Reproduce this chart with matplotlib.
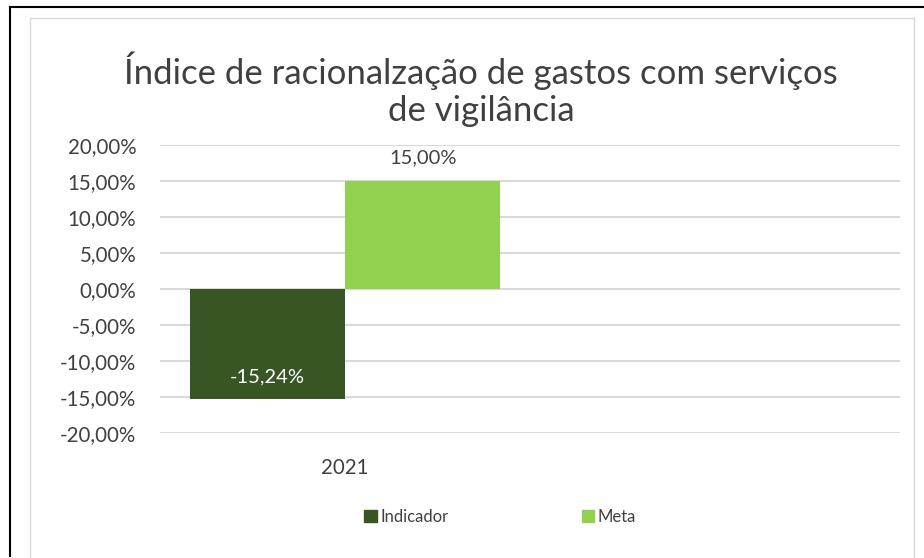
import matplotlib
matplotlib.use("Agg")
import matplotlib.pyplot as plt
import numpy as np
from matplotlib.patches import Rectangle
from matplotlib.lines import Line2D

categories = ["2021", ""]
indicador = [-15.24, np.nan]
meta = [15.00, np.nan]
yticks = [20, 15, 10, 5, 0, -5, -10, -15, -20]

plt.rcParams['font.family'] = ['Lato', 'DejaVu Sans']

fig = plt.figure(figsize=(9.24, 5.58), dpi=100)
W, H = 924, 558

def fx(px):
    return px / W

def fy(py):
    return 1 - py / H

# outer black frame
fig.add_artist(Line2D([fx(10), fx(10)], [fy(7), fy(556)], color='black', lw=1.5, transform=fig.transFigure))
fig.add_artist(Line2D([fx(10), 1.0], [fy(7), fy(7)], color='black', lw=1.5, transform=fig.transFigure))
# inner light frame
fig.add_artist(Rectangle((fx(30), fy(575)), fx(914) - fx(30), fy(18) - fy(575), fill=False,
                         edgecolor='#D9D9D9', lw=1.0, transform=fig.transFigure))

ax = fig.add_axes([fx(160), fy(433), fx(900) - fx(160), fy(145) - fy(433)])
ax.set_ylim(-20, 20)
ax.set_xlim(-0.5, 1.5)
x = np.arange(len(categories))
w = 0.42
ax.bar(x - w / 2, indicador, width=w, color='#375623', zorder=3, label='Indicador')
ax.bar(x + w / 2, meta, width=w, color='#92D050', zorder=3, label='Meta')

def fmt(v):
    return f"{v:.2f}%".replace('.', ',')

for xi, v in zip(x, indicador):
    if not np.isnan(v):
        ax.text(xi - w / 2, v + 3.0, fmt(v),
                ha='center', va='center', color='white', fontsize=14.5, zorder=4)
for xi, v in zip(x, meta):
    if not np.isnan(v):
        ax.text(xi + w / 2, v + 2.0, fmt(v),
                ha='center', va='bottom', color='#404040', fontsize=14.5, zorder=4)

ax.set_yticks(yticks)
ax.set_yticklabels([fmt(t) for t in yticks], fontsize=14.8, color='#404040')
ax.set_xticks(x)
ax.set_xticklabels(categories, fontsize=14.8, color='#404040')
ax.tick_params(axis='y', length=0, pad=17)
ax.tick_params(axis='x', length=0, pad=18)
ax.grid(axis='y', color='#D9D9D9', lw=1.5, zorder=0)
for s in ax.spines.values():
    s.set_visible(False)

fig.text(fx(481), fy(89), "Índice de racionalzação de gastos com serviços\nde vigilância",
         ha='center', va='center', fontsize=25, color='#404040', linespacing=1.2)

leg_handles = [Rectangle((0, 0), 1, 1, color='#375623'), Rectangle((0, 0), 1, 1, color='#92D050')]
fig.legend(leg_handles, ['Indicador', 'Meta'], loc='center', bbox_to_anchor=(fx(500), fy(517)),
           ncol=2, frameon=False, fontsize=12, handlelength=0.75, handleheight=0.75,
           handletextpad=0.2, columnspacing=8, labelcolor='#404040')

fig.savefig("out.png", dpi=100)
